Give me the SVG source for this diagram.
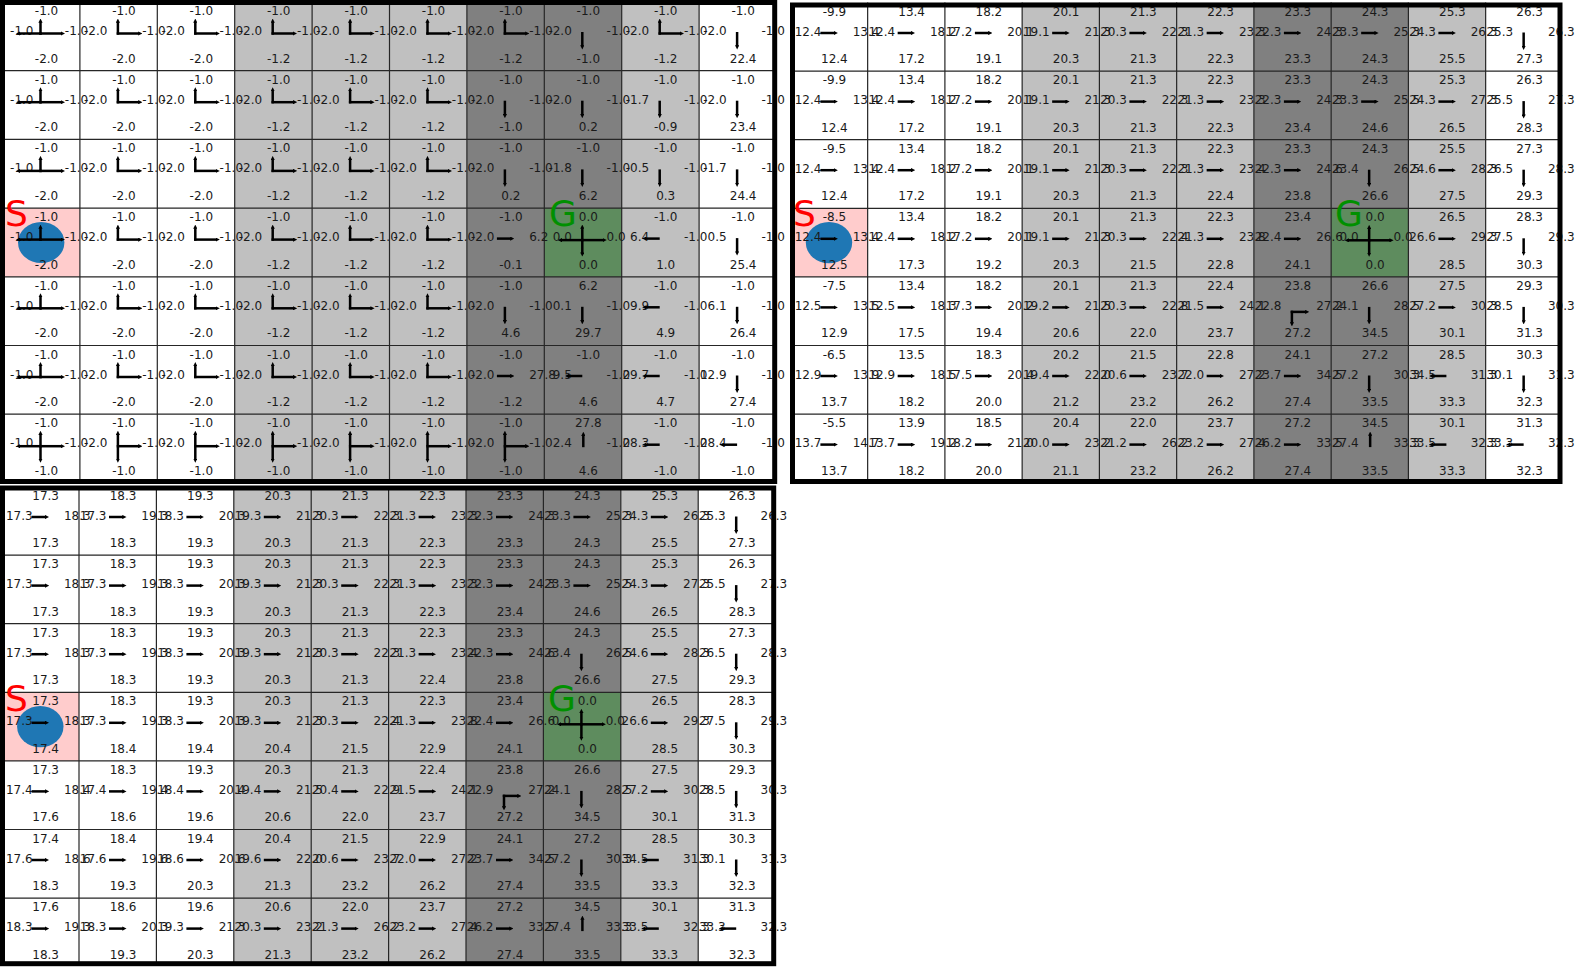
<svg xmlns="http://www.w3.org/2000/svg" width="1576" height="969" viewBox="0 0 1576 969">
<style>
text{font-family:"DejaVu Sans","Liberation Sans",sans-serif;font-size:12px;fill:#1a1a1a}
.t{text-anchor:middle;transform:translate(44px,13px)}
.l{text-anchor:end;transform:translate(27.5px,33px)}
.l0{text-anchor:end;transform:translate(31px,33px)}
.r{transform:translate(62.3px,33px)}
.b{text-anchor:middle;transform:translate(44px,60.5px)}
.gl line{stroke:#000;stroke-width:2.5;stroke-linecap:butt;marker-end:url(#ah)}
.lt{fill:#c0c0c0}.dk{fill:#808080}.st{fill:#ffcccc}.go{fill:#5e8c5e}
.grid{stroke:#262626;stroke-width:1.2;fill:none}
.frame{fill:none;stroke:#000;stroke-width:5}
.ag{fill:#1f77b4}
.S{font-size:36px;fill:#ff0000}
.G{font-size:36px;fill:#009000}
</style>
<defs>
<marker id="ah" viewBox="0 0 6 6" refX="1" refY="3" markerWidth="4.2" markerHeight="4.2" markerUnits="userSpaceOnUse" orient="auto"><path d="M0 0L6 3L0 6z"/></marker>
<g id="R" class="gl"><line x1="30" y1="30.5" x2="44" y2="30.5"/></g>
<g id="Lf" class="gl"><line x1="38" y1="30.5" x2="24" y2="30.5"/></g>
<g id="D" class="gl"><line x1="38" y1="30" x2="38" y2="44"/></g>
<g id="U" class="gl"><line x1="39" y1="33" x2="39" y2="21"/></g>
<g id="UR" class="gl"><line x1="38" y1="32.7" x2="38" y2="20"/><line x1="36.8" y1="31.5" x2="59" y2="31.5"/></g>
<g id="ULR" class="gl"><line x1="38" y1="32.7" x2="38" y2="20"/><line x1="36.8" y1="31.5" x2="59" y2="31.5"/><line x1="39.2" y1="31.5" x2="17" y2="31.5"/></g>
<g id="UDR" class="gl"><line x1="38" y1="32" x2="38" y2="20"/><line x1="38" y1="32" x2="38" y2="45"/><line x1="36.8" y1="32" x2="59" y2="32"/></g>
<g id="UDLR" class="gl"><line x1="38" y1="32" x2="38" y2="20"/><line x1="38" y1="32" x2="38" y2="45"/><line x1="36.8" y1="32" x2="59" y2="32"/><line x1="39.2" y1="32" x2="17" y2="32"/></g>
<g id="RD" class="gl"><line x1="36.8" y1="35" x2="52" y2="35"/><line x1="38" y1="33.8" x2="38" y2="46"/></g>
</defs>

<g id="backgrounds">
<rect class="lt" x="234.7" y="2" width="232.2" height="481"/>
<rect class="dk" x="466.9" y="2" width="154.8" height="481"/>
<rect class="lt" x="621.7" y="2" width="77.4" height="481"/>
<rect class="st" x="2.5" y="208.1" width="77.4" height="68.7"/>
<rect class="go" x="544.3" y="208.1" width="77.4" height="68.7"/>
<rect class="lt" x="1022.15" y="2.5" width="231.75" height="480.2"/>
<rect class="dk" x="1253.9" y="2.5" width="154.5" height="480.2"/>
<rect class="lt" x="1408.4" y="2.5" width="77.25" height="480.2"/>
<rect class="st" x="790.4" y="208.3" width="77.25" height="68.6"/>
<rect class="go" x="1331.15" y="208.3" width="77.25" height="68.6"/>
<rect class="lt" x="233.8" y="486.5" width="232.2" height="479.5"/>
<rect class="dk" x="466" y="486.5" width="154.8" height="479.5"/>
<rect class="lt" x="620.8" y="486.5" width="77.4" height="479.5"/>
<rect class="st" x="1.6" y="692.3" width="77.4" height="68.6"/>
<rect class="go" x="543.4" y="692.3" width="77.4" height="68.6"/>
</g>

<g id="gridlines" class="grid">
<path d="M79.9 2V483M157.3 2V483M234.7 2V483M312.1 2V483M389.5 2V483M466.9 2V483M544.3 2V483M621.7 2V483M699.1 2V483M2.5 70.7H776M2.5 139.4H776M2.5 208.1H776M2.5 276.8H776M2.5 345.5H776M2.5 414.2H776"/>
<path d="M867.65 2.5V482.7M944.9 2.5V482.7M1022.15 2.5V482.7M1099.4 2.5V482.7M1176.65 2.5V482.7M1253.9 2.5V482.7M1331.15 2.5V482.7M1408.4 2.5V482.7M1485.65 2.5V482.7M790.4 71.1H1562M790.4 139.7H1562M790.4 208.3H1562M790.4 276.9H1562M790.4 345.5H1562M790.4 414.1H1562"/>
<path d="M79 486.5V966M156.4 486.5V966M233.8 486.5V966M311.2 486.5V966M388.6 486.5V966M466 486.5V966M543.4 486.5V966M620.8 486.5V966M698.2 486.5V966M1.6 555.1H775M1.6 623.7H775M1.6 692.3H775M1.6 760.9H775M1.6 829.5H775M1.6 898.1H775"/>
</g>

<g id="agents">
<ellipse class="ag" cx="41.2" cy="242.5" rx="23.2" ry="20.6"/>
<ellipse class="ag" cx="829" cy="242.6" rx="23.2" ry="20.6"/>
<ellipse class="ag" cx="40.3" cy="726.6" rx="23.2" ry="20.6"/>
</g>

<g id="grid1">
<g id="a0-0" transform="translate(2.5 2)"><text class="t">-1.0</text><text class="l0">-1.0</text><text class="r">-1.0</text><text class="b">-2.0</text><use href="#ULR"/></g>
<g id="a0-1" transform="translate(79.9 2)"><text class="t">-1.0</text><text class="l">-2.0</text><text class="r">-1.0</text><text class="b">-2.0</text><use href="#UR"/></g>
<g id="a0-2" transform="translate(157.3 2)"><text class="t">-1.0</text><text class="l">-2.0</text><text class="r">-1.0</text><text class="b">-2.0</text><use href="#UR"/></g>
<g id="a0-3" transform="translate(234.7 2)"><text class="t">-1.0</text><text class="l">-2.0</text><text class="r">-1.0</text><text class="b">-1.2</text><use href="#UR"/></g>
<g id="a0-4" transform="translate(312.1 2)"><text class="t">-1.0</text><text class="l">-2.0</text><text class="r">-1.0</text><text class="b">-1.2</text><use href="#UR"/></g>
<g id="a0-5" transform="translate(389.5 2)"><text class="t">-1.0</text><text class="l">-2.0</text><text class="r">-1.0</text><text class="b">-1.2</text><use href="#UR"/></g>
<g id="a0-6" transform="translate(466.9 2)"><text class="t">-1.0</text><text class="l">-2.0</text><text class="r">-1.0</text><text class="b">-1.2</text><use href="#UR"/></g>
<g id="a0-7" transform="translate(544.3 2)"><text class="t">-1.0</text><text class="l">-2.0</text><text class="r">-1.0</text><text class="b">-1.0</text><use href="#D"/></g>
<g id="a0-8" transform="translate(621.7 2)"><text class="t">-1.0</text><text class="l">-2.0</text><text class="r">-1.0</text><text class="b">-1.2</text><use href="#UR"/></g>
<g id="a0-9" transform="translate(699.1 2)"><text class="t">-1.0</text><text class="l">-2.0</text><text class="r">-1.0</text><text class="b">22.4</text><use href="#D"/></g>

<g id="a1-0" transform="translate(2.5 70.7)"><text class="t">-1.0</text><text class="l0">-1.0</text><text class="r">-1.0</text><text class="b">-2.0</text><use href="#ULR"/></g>
<g id="a1-1" transform="translate(79.9 70.7)"><text class="t">-1.0</text><text class="l">-2.0</text><text class="r">-1.0</text><text class="b">-2.0</text><use href="#UR"/></g>
<g id="a1-2" transform="translate(157.3 70.7)"><text class="t">-1.0</text><text class="l">-2.0</text><text class="r">-1.0</text><text class="b">-2.0</text><use href="#UR"/></g>
<g id="a1-3" transform="translate(234.7 70.7)"><text class="t">-1.0</text><text class="l">-2.0</text><text class="r">-1.0</text><text class="b">-1.2</text><use href="#UR"/></g>
<g id="a1-4" transform="translate(312.1 70.7)"><text class="t">-1.0</text><text class="l">-2.0</text><text class="r">-1.0</text><text class="b">-1.2</text><use href="#UR"/></g>
<g id="a1-5" transform="translate(389.5 70.7)"><text class="t">-1.0</text><text class="l">-2.0</text><text class="r">-1.0</text><text class="b">-1.2</text><use href="#UR"/></g>
<g id="a1-6" transform="translate(466.9 70.7)"><text class="t">-1.0</text><text class="l">-2.0</text><text class="r">-1.0</text><text class="b">-1.0</text><use href="#D"/></g>
<g id="a1-7" transform="translate(544.3 70.7)"><text class="t">-1.0</text><text class="l">-2.0</text><text class="r">-1.0</text><text class="b">0.2</text><use href="#D"/></g>
<g id="a1-8" transform="translate(621.7 70.7)"><text class="t">-1.0</text><text class="l">-1.7</text><text class="r">-1.0</text><text class="b">-0.9</text><use href="#D"/></g>
<g id="a1-9" transform="translate(699.1 70.7)"><text class="t">-1.0</text><text class="l">-2.0</text><text class="r">-1.0</text><text class="b">23.4</text><use href="#D"/></g>

<g id="a2-0" transform="translate(2.5 139.4)"><text class="t">-1.0</text><text class="l0">-1.0</text><text class="r">-1.0</text><text class="b">-2.0</text><use href="#ULR"/></g>
<g id="a2-1" transform="translate(79.9 139.4)"><text class="t">-1.0</text><text class="l">-2.0</text><text class="r">-1.0</text><text class="b">-2.0</text><use href="#UR"/></g>
<g id="a2-2" transform="translate(157.3 139.4)"><text class="t">-1.0</text><text class="l">-2.0</text><text class="r">-1.0</text><text class="b">-2.0</text><use href="#UR"/></g>
<g id="a2-3" transform="translate(234.7 139.4)"><text class="t">-1.0</text><text class="l">-2.0</text><text class="r">-1.0</text><text class="b">-1.2</text><use href="#UR"/></g>
<g id="a2-4" transform="translate(312.1 139.4)"><text class="t">-1.0</text><text class="l">-2.0</text><text class="r">-1.0</text><text class="b">-1.2</text><use href="#UR"/></g>
<g id="a2-5" transform="translate(389.5 139.4)"><text class="t">-1.0</text><text class="l">-2.0</text><text class="r">-1.0</text><text class="b">-1.2</text><use href="#UR"/></g>
<g id="a2-6" transform="translate(466.9 139.4)"><text class="t">-1.0</text><text class="l">-2.0</text><text class="r">-1.0</text><text class="b">0.2</text><use href="#D"/></g>
<g id="a2-7" transform="translate(544.3 139.4)"><text class="t">-1.0</text><text class="l">-1.8</text><text class="r">-1.0</text><text class="b">6.2</text><use href="#D"/></g>
<g id="a2-8" transform="translate(621.7 139.4)"><text class="t">-1.0</text><text class="l">-0.5</text><text class="r">-1.0</text><text class="b">0.3</text><use href="#D"/></g>
<g id="a2-9" transform="translate(699.1 139.4)"><text class="t">-1.0</text><text class="l">-1.7</text><text class="r">-1.0</text><text class="b">24.4</text><use href="#D"/></g>

<g id="a3-0" transform="translate(2.5 208.1)"><text class="t">-1.0</text><text class="l0">-1.0</text><text class="r">-1.0</text><text class="b">-2.0</text><use href="#ULR"/></g>
<g id="a3-1" transform="translate(79.9 208.1)"><text class="t">-1.0</text><text class="l">-2.0</text><text class="r">-1.0</text><text class="b">-2.0</text><use href="#UR"/></g>
<g id="a3-2" transform="translate(157.3 208.1)"><text class="t">-1.0</text><text class="l">-2.0</text><text class="r">-1.0</text><text class="b">-2.0</text><use href="#UR"/></g>
<g id="a3-3" transform="translate(234.7 208.1)"><text class="t">-1.0</text><text class="l">-2.0</text><text class="r">-1.0</text><text class="b">-1.2</text><use href="#UR"/></g>
<g id="a3-4" transform="translate(312.1 208.1)"><text class="t">-1.0</text><text class="l">-2.0</text><text class="r">-1.0</text><text class="b">-1.2</text><use href="#UR"/></g>
<g id="a3-5" transform="translate(389.5 208.1)"><text class="t">-1.0</text><text class="l">-2.0</text><text class="r">-1.0</text><text class="b">-1.2</text><use href="#UR"/></g>
<g id="a3-6" transform="translate(466.9 208.1)"><text class="t">-1.0</text><text class="l">-2.0</text><text class="r">6.2</text><text class="b">-0.1</text><use href="#R"/></g>
<g id="a3-7" transform="translate(544.3 208.1)"><text class="t">0.0</text><text class="l">0.0</text><text class="r">0.0</text><text class="b">0.0</text><use href="#UDLR"/></g>
<g id="a3-8" transform="translate(621.7 208.1)"><text class="t">-1.0</text><text class="l">6.4</text><text class="r">-1.0</text><text class="b">1.0</text><use href="#Lf"/></g>
<g id="a3-9" transform="translate(699.1 208.1)"><text class="t">-1.0</text><text class="l">0.5</text><text class="r">-1.0</text><text class="b">25.4</text><use href="#D"/></g>

<g id="a4-0" transform="translate(2.5 276.8)"><text class="t">-1.0</text><text class="l0">-1.0</text><text class="r">-1.0</text><text class="b">-2.0</text><use href="#ULR"/></g>
<g id="a4-1" transform="translate(79.9 276.8)"><text class="t">-1.0</text><text class="l">-2.0</text><text class="r">-1.0</text><text class="b">-2.0</text><use href="#UR"/></g>
<g id="a4-2" transform="translate(157.3 276.8)"><text class="t">-1.0</text><text class="l">-2.0</text><text class="r">-1.0</text><text class="b">-2.0</text><use href="#UR"/></g>
<g id="a4-3" transform="translate(234.7 276.8)"><text class="t">-1.0</text><text class="l">-2.0</text><text class="r">-1.0</text><text class="b">-1.2</text><use href="#UR"/></g>
<g id="a4-4" transform="translate(312.1 276.8)"><text class="t">-1.0</text><text class="l">-2.0</text><text class="r">-1.0</text><text class="b">-1.2</text><use href="#UR"/></g>
<g id="a4-5" transform="translate(389.5 276.8)"><text class="t">-1.0</text><text class="l">-2.0</text><text class="r">-1.0</text><text class="b">-1.2</text><use href="#UR"/></g>
<g id="a4-6" transform="translate(466.9 276.8)"><text class="t">-1.0</text><text class="l">-2.0</text><text class="r">-1.0</text><text class="b">4.6</text><use href="#D"/></g>
<g id="a4-7" transform="translate(544.3 276.8)"><text class="t">6.2</text><text class="l">0.1</text><text class="r">-1.0</text><text class="b">29.7</text><use href="#D"/></g>
<g id="a4-8" transform="translate(621.7 276.8)"><text class="t">-1.0</text><text class="l">9.9</text><text class="r">-1.0</text><text class="b">4.9</text><use href="#Lf"/></g>
<g id="a4-9" transform="translate(699.1 276.8)"><text class="t">-1.0</text><text class="l">6.1</text><text class="r">-1.0</text><text class="b">26.4</text><use href="#D"/></g>

<g id="a5-0" transform="translate(2.5 345.5)"><text class="t">-1.0</text><text class="l0">-1.0</text><text class="r">-1.0</text><text class="b">-2.0</text><use href="#ULR"/></g>
<g id="a5-1" transform="translate(79.9 345.5)"><text class="t">-1.0</text><text class="l">-2.0</text><text class="r">-1.0</text><text class="b">-2.0</text><use href="#UR"/></g>
<g id="a5-2" transform="translate(157.3 345.5)"><text class="t">-1.0</text><text class="l">-2.0</text><text class="r">-1.0</text><text class="b">-2.0</text><use href="#UR"/></g>
<g id="a5-3" transform="translate(234.7 345.5)"><text class="t">-1.0</text><text class="l">-2.0</text><text class="r">-1.0</text><text class="b">-1.2</text><use href="#UR"/></g>
<g id="a5-4" transform="translate(312.1 345.5)"><text class="t">-1.0</text><text class="l">-2.0</text><text class="r">-1.0</text><text class="b">-1.2</text><use href="#UR"/></g>
<g id="a5-5" transform="translate(389.5 345.5)"><text class="t">-1.0</text><text class="l">-2.0</text><text class="r">-1.0</text><text class="b">-1.2</text><use href="#UR"/></g>
<g id="a5-6" transform="translate(466.9 345.5)"><text class="t">-1.0</text><text class="l">-2.0</text><text class="r">27.8</text><text class="b">-1.2</text><use href="#R"/></g>
<g id="a5-7" transform="translate(544.3 345.5)"><text class="t">-1.0</text><text class="l">9.5</text><text class="r">-1.0</text><text class="b">4.6</text><use href="#Lf"/></g>
<g id="a5-8" transform="translate(621.7 345.5)"><text class="t">-1.0</text><text class="l">29.7</text><text class="r">-1.0</text><text class="b">4.7</text><use href="#Lf"/></g>
<g id="a5-9" transform="translate(699.1 345.5)"><text class="t">-1.0</text><text class="l">12.9</text><text class="r">-1.0</text><text class="b">27.4</text><use href="#D"/></g>

<g id="a6-0" transform="translate(2.5 414.2)"><text class="t">-1.0</text><text class="l0">-1.0</text><text class="r">-1.0</text><text class="b">-1.0</text><use href="#UDLR"/></g>
<g id="a6-1" transform="translate(79.9 414.2)"><text class="t">-1.0</text><text class="l">-2.0</text><text class="r">-1.0</text><text class="b">-1.0</text><use href="#UDR"/></g>
<g id="a6-2" transform="translate(157.3 414.2)"><text class="t">-1.0</text><text class="l">-2.0</text><text class="r">-1.0</text><text class="b">-1.0</text><use href="#UDR"/></g>
<g id="a6-3" transform="translate(234.7 414.2)"><text class="t">-1.0</text><text class="l">-2.0</text><text class="r">-1.0</text><text class="b">-1.0</text><use href="#UDR"/></g>
<g id="a6-4" transform="translate(312.1 414.2)"><text class="t">-1.0</text><text class="l">-2.0</text><text class="r">-1.0</text><text class="b">-1.0</text><use href="#UDR"/></g>
<g id="a6-5" transform="translate(389.5 414.2)"><text class="t">-1.0</text><text class="l">-2.0</text><text class="r">-1.0</text><text class="b">-1.0</text><use href="#UDR"/></g>
<g id="a6-6" transform="translate(466.9 414.2)"><text class="t">-1.0</text><text class="l">-2.0</text><text class="r">-1.0</text><text class="b">-1.0</text><use href="#UDR"/></g>
<g id="a6-7" transform="translate(544.3 414.2)"><text class="t">27.8</text><text class="l">2.4</text><text class="r">-1.0</text><text class="b">4.6</text><use href="#U"/></g>
<g id="a6-8" transform="translate(621.7 414.2)"><text class="t">-1.0</text><text class="l">28.3</text><text class="r">-1.0</text><text class="b">-1.0</text><use href="#Lf"/></g>
<g id="a6-9" transform="translate(699.1 414.2)"><text class="t">-1.0</text><text class="l">28.4</text><text class="r">-1.0</text><text class="b">-1.0</text><use href="#Lf"/></g>
</g>

<g id="grid2">
<g id="b0-0" transform="translate(790.4 2.5)"><text class="t">-9.9</text><text class="l0">12.4</text><text class="r">13.4</text><text class="b">12.4</text><use href="#R"/></g>
<g id="b0-1" transform="translate(867.65 2.5)"><text class="t">13.4</text><text class="l">12.4</text><text class="r">18.2</text><text class="b">17.2</text><use href="#R"/></g>
<g id="b0-2" transform="translate(944.9 2.5)"><text class="t">18.2</text><text class="l">17.2</text><text class="r">20.1</text><text class="b">19.1</text><use href="#R"/></g>
<g id="b0-3" transform="translate(1022.15 2.5)"><text class="t">20.1</text><text class="l">19.1</text><text class="r">21.3</text><text class="b">20.3</text><use href="#R"/></g>
<g id="b0-4" transform="translate(1099.4 2.5)"><text class="t">21.3</text><text class="l">20.3</text><text class="r">22.3</text><text class="b">21.3</text><use href="#R"/></g>
<g id="b0-5" transform="translate(1176.65 2.5)"><text class="t">22.3</text><text class="l">21.3</text><text class="r">23.3</text><text class="b">22.3</text><use href="#R"/></g>
<g id="b0-6" transform="translate(1253.9 2.5)"><text class="t">23.3</text><text class="l">22.3</text><text class="r">24.3</text><text class="b">23.3</text><use href="#R"/></g>
<g id="b0-7" transform="translate(1331.15 2.5)"><text class="t">24.3</text><text class="l">23.3</text><text class="r">25.3</text><text class="b">24.3</text><use href="#R"/></g>
<g id="b0-8" transform="translate(1408.4 2.5)"><text class="t">25.3</text><text class="l">24.3</text><text class="r">26.3</text><text class="b">25.5</text><use href="#R"/></g>
<g id="b0-9" transform="translate(1485.65 2.5)"><text class="t">26.3</text><text class="l">25.3</text><text class="r">26.3</text><text class="b">27.3</text><use href="#D"/></g>

<g id="b1-0" transform="translate(790.4 71.1)"><text class="t">-9.9</text><text class="l0">12.4</text><text class="r">13.4</text><text class="b">12.4</text><use href="#R"/></g>
<g id="b1-1" transform="translate(867.65 71.1)"><text class="t">13.4</text><text class="l">12.4</text><text class="r">18.2</text><text class="b">17.2</text><use href="#R"/></g>
<g id="b1-2" transform="translate(944.9 71.1)"><text class="t">18.2</text><text class="l">17.2</text><text class="r">20.1</text><text class="b">19.1</text><use href="#R"/></g>
<g id="b1-3" transform="translate(1022.15 71.1)"><text class="t">20.1</text><text class="l">19.1</text><text class="r">21.3</text><text class="b">20.3</text><use href="#R"/></g>
<g id="b1-4" transform="translate(1099.4 71.1)"><text class="t">21.3</text><text class="l">20.3</text><text class="r">22.3</text><text class="b">21.3</text><use href="#R"/></g>
<g id="b1-5" transform="translate(1176.65 71.1)"><text class="t">22.3</text><text class="l">21.3</text><text class="r">23.3</text><text class="b">22.3</text><use href="#R"/></g>
<g id="b1-6" transform="translate(1253.9 71.1)"><text class="t">23.3</text><text class="l">22.3</text><text class="r">24.3</text><text class="b">23.4</text><use href="#R"/></g>
<g id="b1-7" transform="translate(1331.15 71.1)"><text class="t">24.3</text><text class="l">23.3</text><text class="r">25.5</text><text class="b">24.6</text><use href="#R"/></g>
<g id="b1-8" transform="translate(1408.4 71.1)"><text class="t">25.3</text><text class="l">24.3</text><text class="r">27.3</text><text class="b">26.5</text><use href="#R"/></g>
<g id="b1-9" transform="translate(1485.65 71.1)"><text class="t">26.3</text><text class="l">25.5</text><text class="r">27.3</text><text class="b">28.3</text><use href="#D"/></g>

<g id="b2-0" transform="translate(790.4 139.7)"><text class="t">-9.5</text><text class="l0">12.4</text><text class="r">13.4</text><text class="b">12.4</text><use href="#R"/></g>
<g id="b2-1" transform="translate(867.65 139.7)"><text class="t">13.4</text><text class="l">12.4</text><text class="r">18.2</text><text class="b">17.2</text><use href="#R"/></g>
<g id="b2-2" transform="translate(944.9 139.7)"><text class="t">18.2</text><text class="l">17.2</text><text class="r">20.1</text><text class="b">19.1</text><use href="#R"/></g>
<g id="b2-3" transform="translate(1022.15 139.7)"><text class="t">20.1</text><text class="l">19.1</text><text class="r">21.3</text><text class="b">20.3</text><use href="#R"/></g>
<g id="b2-4" transform="translate(1099.4 139.7)"><text class="t">21.3</text><text class="l">20.3</text><text class="r">22.3</text><text class="b">21.3</text><use href="#R"/></g>
<g id="b2-5" transform="translate(1176.65 139.7)"><text class="t">22.3</text><text class="l">21.3</text><text class="r">23.4</text><text class="b">22.4</text><use href="#R"/></g>
<g id="b2-6" transform="translate(1253.9 139.7)"><text class="t">23.3</text><text class="l">22.3</text><text class="r">24.6</text><text class="b">23.8</text><use href="#R"/></g>
<g id="b2-7" transform="translate(1331.15 139.7)"><text class="t">24.3</text><text class="l">23.4</text><text class="r">26.5</text><text class="b">26.6</text><use href="#D"/></g>
<g id="b2-8" transform="translate(1408.4 139.7)"><text class="t">25.5</text><text class="l">24.6</text><text class="r">28.3</text><text class="b">27.5</text><use href="#R"/></g>
<g id="b2-9" transform="translate(1485.65 139.7)"><text class="t">27.3</text><text class="l">26.5</text><text class="r">28.3</text><text class="b">29.3</text><use href="#D"/></g>

<g id="b3-0" transform="translate(790.4 208.3)"><text class="t">-8.5</text><text class="l0">12.4</text><text class="r">13.4</text><text class="b">12.5</text><use href="#R"/></g>
<g id="b3-1" transform="translate(867.65 208.3)"><text class="t">13.4</text><text class="l">12.4</text><text class="r">18.2</text><text class="b">17.3</text><use href="#R"/></g>
<g id="b3-2" transform="translate(944.9 208.3)"><text class="t">18.2</text><text class="l">17.2</text><text class="r">20.1</text><text class="b">19.2</text><use href="#R"/></g>
<g id="b3-3" transform="translate(1022.15 208.3)"><text class="t">20.1</text><text class="l">19.1</text><text class="r">21.3</text><text class="b">20.3</text><use href="#R"/></g>
<g id="b3-4" transform="translate(1099.4 208.3)"><text class="t">21.3</text><text class="l">20.3</text><text class="r">22.4</text><text class="b">21.5</text><use href="#R"/></g>
<g id="b3-5" transform="translate(1176.65 208.3)"><text class="t">22.3</text><text class="l">21.3</text><text class="r">23.8</text><text class="b">22.8</text><use href="#R"/></g>
<g id="b3-6" transform="translate(1253.9 208.3)"><text class="t">23.4</text><text class="l">22.4</text><text class="r">26.6</text><text class="b">24.1</text><use href="#R"/></g>
<g id="b3-7" transform="translate(1331.15 208.3)"><text class="t">0.0</text><text class="l">0.0</text><text class="r">0.0</text><text class="b">0.0</text><use href="#UDLR"/></g>
<g id="b3-8" transform="translate(1408.4 208.3)"><text class="t">26.5</text><text class="l">26.6</text><text class="r">29.3</text><text class="b">28.5</text><use href="#R"/></g>
<g id="b3-9" transform="translate(1485.65 208.3)"><text class="t">28.3</text><text class="l">27.5</text><text class="r">29.3</text><text class="b">30.3</text><use href="#D"/></g>

<g id="b4-0" transform="translate(790.4 276.9)"><text class="t">-7.5</text><text class="l0">12.5</text><text class="r">13.5</text><text class="b">12.9</text><use href="#R"/></g>
<g id="b4-1" transform="translate(867.65 276.9)"><text class="t">13.4</text><text class="l">12.5</text><text class="r">18.3</text><text class="b">17.5</text><use href="#R"/></g>
<g id="b4-2" transform="translate(944.9 276.9)"><text class="t">18.2</text><text class="l">17.3</text><text class="r">20.2</text><text class="b">19.4</text><use href="#R"/></g>
<g id="b4-3" transform="translate(1022.15 276.9)"><text class="t">20.1</text><text class="l">19.2</text><text class="r">21.5</text><text class="b">20.6</text><use href="#R"/></g>
<g id="b4-4" transform="translate(1099.4 276.9)"><text class="t">21.3</text><text class="l">20.3</text><text class="r">22.8</text><text class="b">22.0</text><use href="#R"/></g>
<g id="b4-5" transform="translate(1176.65 276.9)"><text class="t">22.4</text><text class="l">21.5</text><text class="r">24.1</text><text class="b">23.7</text><use href="#R"/></g>
<g id="b4-6" transform="translate(1253.9 276.9)"><text class="t">23.8</text><text class="l">22.8</text><text class="r">27.2</text><text class="b">27.2</text><use href="#RD"/></g>
<g id="b4-7" transform="translate(1331.15 276.9)"><text class="t">26.6</text><text class="l">24.1</text><text class="r">28.5</text><text class="b">34.5</text><use href="#D"/></g>
<g id="b4-8" transform="translate(1408.4 276.9)"><text class="t">27.5</text><text class="l">27.2</text><text class="r">30.3</text><text class="b">30.1</text><use href="#R"/></g>
<g id="b4-9" transform="translate(1485.65 276.9)"><text class="t">29.3</text><text class="l">28.5</text><text class="r">30.3</text><text class="b">31.3</text><use href="#D"/></g>

<g id="b5-0" transform="translate(790.4 345.5)"><text class="t">-6.5</text><text class="l0">12.9</text><text class="r">13.9</text><text class="b">13.7</text><use href="#R"/></g>
<g id="b5-1" transform="translate(867.65 345.5)"><text class="t">13.5</text><text class="l">12.9</text><text class="r">18.5</text><text class="b">18.2</text><use href="#R"/></g>
<g id="b5-2" transform="translate(944.9 345.5)"><text class="t">18.3</text><text class="l">17.5</text><text class="r">20.4</text><text class="b">20.0</text><use href="#R"/></g>
<g id="b5-3" transform="translate(1022.15 345.5)"><text class="t">20.2</text><text class="l">19.4</text><text class="r">22.0</text><text class="b">21.2</text><use href="#R"/></g>
<g id="b5-4" transform="translate(1099.4 345.5)"><text class="t">21.5</text><text class="l">20.6</text><text class="r">23.7</text><text class="b">23.2</text><use href="#R"/></g>
<g id="b5-5" transform="translate(1176.65 345.5)"><text class="t">22.8</text><text class="l">22.0</text><text class="r">27.2</text><text class="b">26.2</text><use href="#R"/></g>
<g id="b5-6" transform="translate(1253.9 345.5)"><text class="t">24.1</text><text class="l">23.7</text><text class="r">34.5</text><text class="b">27.4</text><use href="#R"/></g>
<g id="b5-7" transform="translate(1331.15 345.5)"><text class="t">27.2</text><text class="l">27.2</text><text class="r">30.3</text><text class="b">33.5</text><use href="#D"/></g>
<g id="b5-8" transform="translate(1408.4 345.5)"><text class="t">28.5</text><text class="l">34.5</text><text class="r">31.3</text><text class="b">33.3</text><use href="#Lf"/></g>
<g id="b5-9" transform="translate(1485.65 345.5)"><text class="t">30.3</text><text class="l">30.1</text><text class="r">31.3</text><text class="b">32.3</text><use href="#D"/></g>

<g id="b6-0" transform="translate(790.4 414.1)"><text class="t">-5.5</text><text class="l0">13.7</text><text class="r">14.7</text><text class="b">13.7</text><use href="#R"/></g>
<g id="b6-1" transform="translate(867.65 414.1)"><text class="t">13.9</text><text class="l">13.7</text><text class="r">19.2</text><text class="b">18.2</text><use href="#R"/></g>
<g id="b6-2" transform="translate(944.9 414.1)"><text class="t">18.5</text><text class="l">18.2</text><text class="r">21.0</text><text class="b">20.0</text><use href="#R"/></g>
<g id="b6-3" transform="translate(1022.15 414.1)"><text class="t">20.4</text><text class="l">20.0</text><text class="r">23.2</text><text class="b">21.1</text><use href="#R"/></g>
<g id="b6-4" transform="translate(1099.4 414.1)"><text class="t">22.0</text><text class="l">21.2</text><text class="r">26.2</text><text class="b">23.2</text><use href="#R"/></g>
<g id="b6-5" transform="translate(1176.65 414.1)"><text class="t">23.7</text><text class="l">23.2</text><text class="r">27.4</text><text class="b">26.2</text><use href="#R"/></g>
<g id="b6-6" transform="translate(1253.9 414.1)"><text class="t">27.2</text><text class="l">26.2</text><text class="r">33.5</text><text class="b">27.4</text><use href="#R"/></g>
<g id="b6-7" transform="translate(1331.15 414.1)"><text class="t">34.5</text><text class="l">27.4</text><text class="r">33.3</text><text class="b">33.5</text><use href="#U"/></g>
<g id="b6-8" transform="translate(1408.4 414.1)"><text class="t">30.1</text><text class="l">33.5</text><text class="r">32.3</text><text class="b">33.3</text><use href="#Lf"/></g>
<g id="b6-9" transform="translate(1485.65 414.1)"><text class="t">31.3</text><text class="l">33.3</text><text class="r">32.3</text><text class="b">32.3</text><use href="#Lf"/></g>
</g>

<g id="grid3">
<g id="c0-0" transform="translate(1.6 486.5)"><text class="t">17.3</text><text class="l0">17.3</text><text class="r">18.3</text><text class="b">17.3</text><use href="#R"/></g>
<g id="c0-1" transform="translate(79 486.5)"><text class="t">18.3</text><text class="l">17.3</text><text class="r">19.3</text><text class="b">18.3</text><use href="#R"/></g>
<g id="c0-2" transform="translate(156.4 486.5)"><text class="t">19.3</text><text class="l">18.3</text><text class="r">20.3</text><text class="b">19.3</text><use href="#R"/></g>
<g id="c0-3" transform="translate(233.8 486.5)"><text class="t">20.3</text><text class="l">19.3</text><text class="r">21.3</text><text class="b">20.3</text><use href="#R"/></g>
<g id="c0-4" transform="translate(311.2 486.5)"><text class="t">21.3</text><text class="l">20.3</text><text class="r">22.3</text><text class="b">21.3</text><use href="#R"/></g>
<g id="c0-5" transform="translate(388.6 486.5)"><text class="t">22.3</text><text class="l">21.3</text><text class="r">23.3</text><text class="b">22.3</text><use href="#R"/></g>
<g id="c0-6" transform="translate(466 486.5)"><text class="t">23.3</text><text class="l">22.3</text><text class="r">24.3</text><text class="b">23.3</text><use href="#R"/></g>
<g id="c0-7" transform="translate(543.4 486.5)"><text class="t">24.3</text><text class="l">23.3</text><text class="r">25.3</text><text class="b">24.3</text><use href="#R"/></g>
<g id="c0-8" transform="translate(620.8 486.5)"><text class="t">25.3</text><text class="l">24.3</text><text class="r">26.3</text><text class="b">25.5</text><use href="#R"/></g>
<g id="c0-9" transform="translate(698.2 486.5)"><text class="t">26.3</text><text class="l">25.3</text><text class="r">26.3</text><text class="b">27.3</text><use href="#D"/></g>

<g id="c1-0" transform="translate(1.6 555.1)"><text class="t">17.3</text><text class="l0">17.3</text><text class="r">18.3</text><text class="b">17.3</text><use href="#R"/></g>
<g id="c1-1" transform="translate(79 555.1)"><text class="t">18.3</text><text class="l">17.3</text><text class="r">19.3</text><text class="b">18.3</text><use href="#R"/></g>
<g id="c1-2" transform="translate(156.4 555.1)"><text class="t">19.3</text><text class="l">18.3</text><text class="r">20.3</text><text class="b">19.3</text><use href="#R"/></g>
<g id="c1-3" transform="translate(233.8 555.1)"><text class="t">20.3</text><text class="l">19.3</text><text class="r">21.3</text><text class="b">20.3</text><use href="#R"/></g>
<g id="c1-4" transform="translate(311.2 555.1)"><text class="t">21.3</text><text class="l">20.3</text><text class="r">22.3</text><text class="b">21.3</text><use href="#R"/></g>
<g id="c1-5" transform="translate(388.6 555.1)"><text class="t">22.3</text><text class="l">21.3</text><text class="r">23.3</text><text class="b">22.3</text><use href="#R"/></g>
<g id="c1-6" transform="translate(466 555.1)"><text class="t">23.3</text><text class="l">22.3</text><text class="r">24.3</text><text class="b">23.4</text><use href="#R"/></g>
<g id="c1-7" transform="translate(543.4 555.1)"><text class="t">24.3</text><text class="l">23.3</text><text class="r">25.5</text><text class="b">24.6</text><use href="#R"/></g>
<g id="c1-8" transform="translate(620.8 555.1)"><text class="t">25.3</text><text class="l">24.3</text><text class="r">27.3</text><text class="b">26.5</text><use href="#R"/></g>
<g id="c1-9" transform="translate(698.2 555.1)"><text class="t">26.3</text><text class="l">25.5</text><text class="r">27.3</text><text class="b">28.3</text><use href="#D"/></g>

<g id="c2-0" transform="translate(1.6 623.7)"><text class="t">17.3</text><text class="l0">17.3</text><text class="r">18.3</text><text class="b">17.3</text><use href="#R"/></g>
<g id="c2-1" transform="translate(79 623.7)"><text class="t">18.3</text><text class="l">17.3</text><text class="r">19.3</text><text class="b">18.3</text><use href="#R"/></g>
<g id="c2-2" transform="translate(156.4 623.7)"><text class="t">19.3</text><text class="l">18.3</text><text class="r">20.3</text><text class="b">19.3</text><use href="#R"/></g>
<g id="c2-3" transform="translate(233.8 623.7)"><text class="t">20.3</text><text class="l">19.3</text><text class="r">21.3</text><text class="b">20.3</text><use href="#R"/></g>
<g id="c2-4" transform="translate(311.2 623.7)"><text class="t">21.3</text><text class="l">20.3</text><text class="r">22.3</text><text class="b">21.3</text><use href="#R"/></g>
<g id="c2-5" transform="translate(388.6 623.7)"><text class="t">22.3</text><text class="l">21.3</text><text class="r">23.4</text><text class="b">22.4</text><use href="#R"/></g>
<g id="c2-6" transform="translate(466 623.7)"><text class="t">23.3</text><text class="l">22.3</text><text class="r">24.6</text><text class="b">23.8</text><use href="#R"/></g>
<g id="c2-7" transform="translate(543.4 623.7)"><text class="t">24.3</text><text class="l">23.4</text><text class="r">26.5</text><text class="b">26.6</text><use href="#D"/></g>
<g id="c2-8" transform="translate(620.8 623.7)"><text class="t">25.5</text><text class="l">24.6</text><text class="r">28.3</text><text class="b">27.5</text><use href="#R"/></g>
<g id="c2-9" transform="translate(698.2 623.7)"><text class="t">27.3</text><text class="l">26.5</text><text class="r">28.3</text><text class="b">29.3</text><use href="#D"/></g>

<g id="c3-0" transform="translate(1.6 692.3)"><text class="t">17.3</text><text class="l0">17.3</text><text class="r">18.3</text><text class="b">17.4</text><use href="#R"/></g>
<g id="c3-1" transform="translate(79 692.3)"><text class="t">18.3</text><text class="l">17.3</text><text class="r">19.3</text><text class="b">18.4</text><use href="#R"/></g>
<g id="c3-2" transform="translate(156.4 692.3)"><text class="t">19.3</text><text class="l">18.3</text><text class="r">20.3</text><text class="b">19.4</text><use href="#R"/></g>
<g id="c3-3" transform="translate(233.8 692.3)"><text class="t">20.3</text><text class="l">19.3</text><text class="r">21.3</text><text class="b">20.4</text><use href="#R"/></g>
<g id="c3-4" transform="translate(311.2 692.3)"><text class="t">21.3</text><text class="l">20.3</text><text class="r">22.4</text><text class="b">21.5</text><use href="#R"/></g>
<g id="c3-5" transform="translate(388.6 692.3)"><text class="t">22.3</text><text class="l">21.3</text><text class="r">23.8</text><text class="b">22.9</text><use href="#R"/></g>
<g id="c3-6" transform="translate(466 692.3)"><text class="t">23.4</text><text class="l">22.4</text><text class="r">26.6</text><text class="b">24.1</text><use href="#R"/></g>
<g id="c3-7" transform="translate(543.4 692.3)"><text class="t">0.0</text><text class="l">0.0</text><text class="r">0.0</text><text class="b">0.0</text><use href="#UDLR"/></g>
<g id="c3-8" transform="translate(620.8 692.3)"><text class="t">26.5</text><text class="l">26.6</text><text class="r">29.3</text><text class="b">28.5</text><use href="#R"/></g>
<g id="c3-9" transform="translate(698.2 692.3)"><text class="t">28.3</text><text class="l">27.5</text><text class="r">29.3</text><text class="b">30.3</text><use href="#D"/></g>

<g id="c4-0" transform="translate(1.6 760.9)"><text class="t">17.3</text><text class="l0">17.4</text><text class="r">18.4</text><text class="b">17.6</text><use href="#R"/></g>
<g id="c4-1" transform="translate(79 760.9)"><text class="t">18.3</text><text class="l">17.4</text><text class="r">19.4</text><text class="b">18.6</text><use href="#R"/></g>
<g id="c4-2" transform="translate(156.4 760.9)"><text class="t">19.3</text><text class="l">18.4</text><text class="r">20.4</text><text class="b">19.6</text><use href="#R"/></g>
<g id="c4-3" transform="translate(233.8 760.9)"><text class="t">20.3</text><text class="l">19.4</text><text class="r">21.5</text><text class="b">20.6</text><use href="#R"/></g>
<g id="c4-4" transform="translate(311.2 760.9)"><text class="t">21.3</text><text class="l">20.4</text><text class="r">22.9</text><text class="b">22.0</text><use href="#R"/></g>
<g id="c4-5" transform="translate(388.6 760.9)"><text class="t">22.4</text><text class="l">21.5</text><text class="r">24.1</text><text class="b">23.7</text><use href="#R"/></g>
<g id="c4-6" transform="translate(466 760.9)"><text class="t">23.8</text><text class="l">22.9</text><text class="r">27.2</text><text class="b">27.2</text><use href="#RD"/></g>
<g id="c4-7" transform="translate(543.4 760.9)"><text class="t">26.6</text><text class="l">24.1</text><text class="r">28.5</text><text class="b">34.5</text><use href="#D"/></g>
<g id="c4-8" transform="translate(620.8 760.9)"><text class="t">27.5</text><text class="l">27.2</text><text class="r">30.3</text><text class="b">30.1</text><use href="#R"/></g>
<g id="c4-9" transform="translate(698.2 760.9)"><text class="t">29.3</text><text class="l">28.5</text><text class="r">30.3</text><text class="b">31.3</text><use href="#D"/></g>

<g id="c5-0" transform="translate(1.6 829.5)"><text class="t">17.4</text><text class="l0">17.6</text><text class="r">18.6</text><text class="b">18.3</text><use href="#R"/></g>
<g id="c5-1" transform="translate(79 829.5)"><text class="t">18.4</text><text class="l">17.6</text><text class="r">19.6</text><text class="b">19.3</text><use href="#R"/></g>
<g id="c5-2" transform="translate(156.4 829.5)"><text class="t">19.4</text><text class="l">18.6</text><text class="r">20.6</text><text class="b">20.3</text><use href="#R"/></g>
<g id="c5-3" transform="translate(233.8 829.5)"><text class="t">20.4</text><text class="l">19.6</text><text class="r">22.0</text><text class="b">21.3</text><use href="#R"/></g>
<g id="c5-4" transform="translate(311.2 829.5)"><text class="t">21.5</text><text class="l">20.6</text><text class="r">23.7</text><text class="b">23.2</text><use href="#R"/></g>
<g id="c5-5" transform="translate(388.6 829.5)"><text class="t">22.9</text><text class="l">22.0</text><text class="r">27.2</text><text class="b">26.2</text><use href="#R"/></g>
<g id="c5-6" transform="translate(466 829.5)"><text class="t">24.1</text><text class="l">23.7</text><text class="r">34.5</text><text class="b">27.4</text><use href="#R"/></g>
<g id="c5-7" transform="translate(543.4 829.5)"><text class="t">27.2</text><text class="l">27.2</text><text class="r">30.3</text><text class="b">33.5</text><use href="#D"/></g>
<g id="c5-8" transform="translate(620.8 829.5)"><text class="t">28.5</text><text class="l">34.5</text><text class="r">31.3</text><text class="b">33.3</text><use href="#Lf"/></g>
<g id="c5-9" transform="translate(698.2 829.5)"><text class="t">30.3</text><text class="l">30.1</text><text class="r">31.3</text><text class="b">32.3</text><use href="#D"/></g>

<g id="c6-0" transform="translate(1.6 898.1)"><text class="t">17.6</text><text class="l0">18.3</text><text class="r">19.3</text><text class="b">18.3</text><use href="#R"/></g>
<g id="c6-1" transform="translate(79 898.1)"><text class="t">18.6</text><text class="l">18.3</text><text class="r">20.3</text><text class="b">19.3</text><use href="#R"/></g>
<g id="c6-2" transform="translate(156.4 898.1)"><text class="t">19.6</text><text class="l">19.3</text><text class="r">21.3</text><text class="b">20.3</text><use href="#R"/></g>
<g id="c6-3" transform="translate(233.8 898.1)"><text class="t">20.6</text><text class="l">20.3</text><text class="r">23.2</text><text class="b">21.3</text><use href="#R"/></g>
<g id="c6-4" transform="translate(311.2 898.1)"><text class="t">22.0</text><text class="l">21.3</text><text class="r">26.2</text><text class="b">23.2</text><use href="#R"/></g>
<g id="c6-5" transform="translate(388.6 898.1)"><text class="t">23.7</text><text class="l">23.2</text><text class="r">27.4</text><text class="b">26.2</text><use href="#R"/></g>
<g id="c6-6" transform="translate(466 898.1)"><text class="t">27.2</text><text class="l">26.2</text><text class="r">33.5</text><text class="b">27.4</text><use href="#R"/></g>
<g id="c6-7" transform="translate(543.4 898.1)"><text class="t">34.5</text><text class="l">27.4</text><text class="r">33.3</text><text class="b">33.5</text><use href="#U"/></g>
<g id="c6-8" transform="translate(620.8 898.1)"><text class="t">30.1</text><text class="l">33.5</text><text class="r">32.3</text><text class="b">33.3</text><use href="#Lf"/></g>
<g id="c6-9" transform="translate(698.2 898.1)"><text class="t">31.3</text><text class="l">33.3</text><text class="r">32.3</text><text class="b">32.3</text><use href="#Lf"/></g>
</g>

<g id="labels">
<text class="S" x="5" y="226">S</text>
<text class="G" x="549" y="226">G</text>
<text class="S" x="793" y="226">S</text>
<text class="G" x="1335" y="226">G</text>
<text class="S" x="5" y="711">S</text>
<text class="G" x="548" y="711">G</text>
</g>

<g id="frames">
<rect class="frame" x="2.5" y="2.5" width="772.2" height="479"/>
<rect class="frame" x="792.5" y="5" width="767.5" height="476.5"/>
<rect class="frame" x="2.5" y="488" width="771.2" height="475.7"/>
</g>
</svg>
